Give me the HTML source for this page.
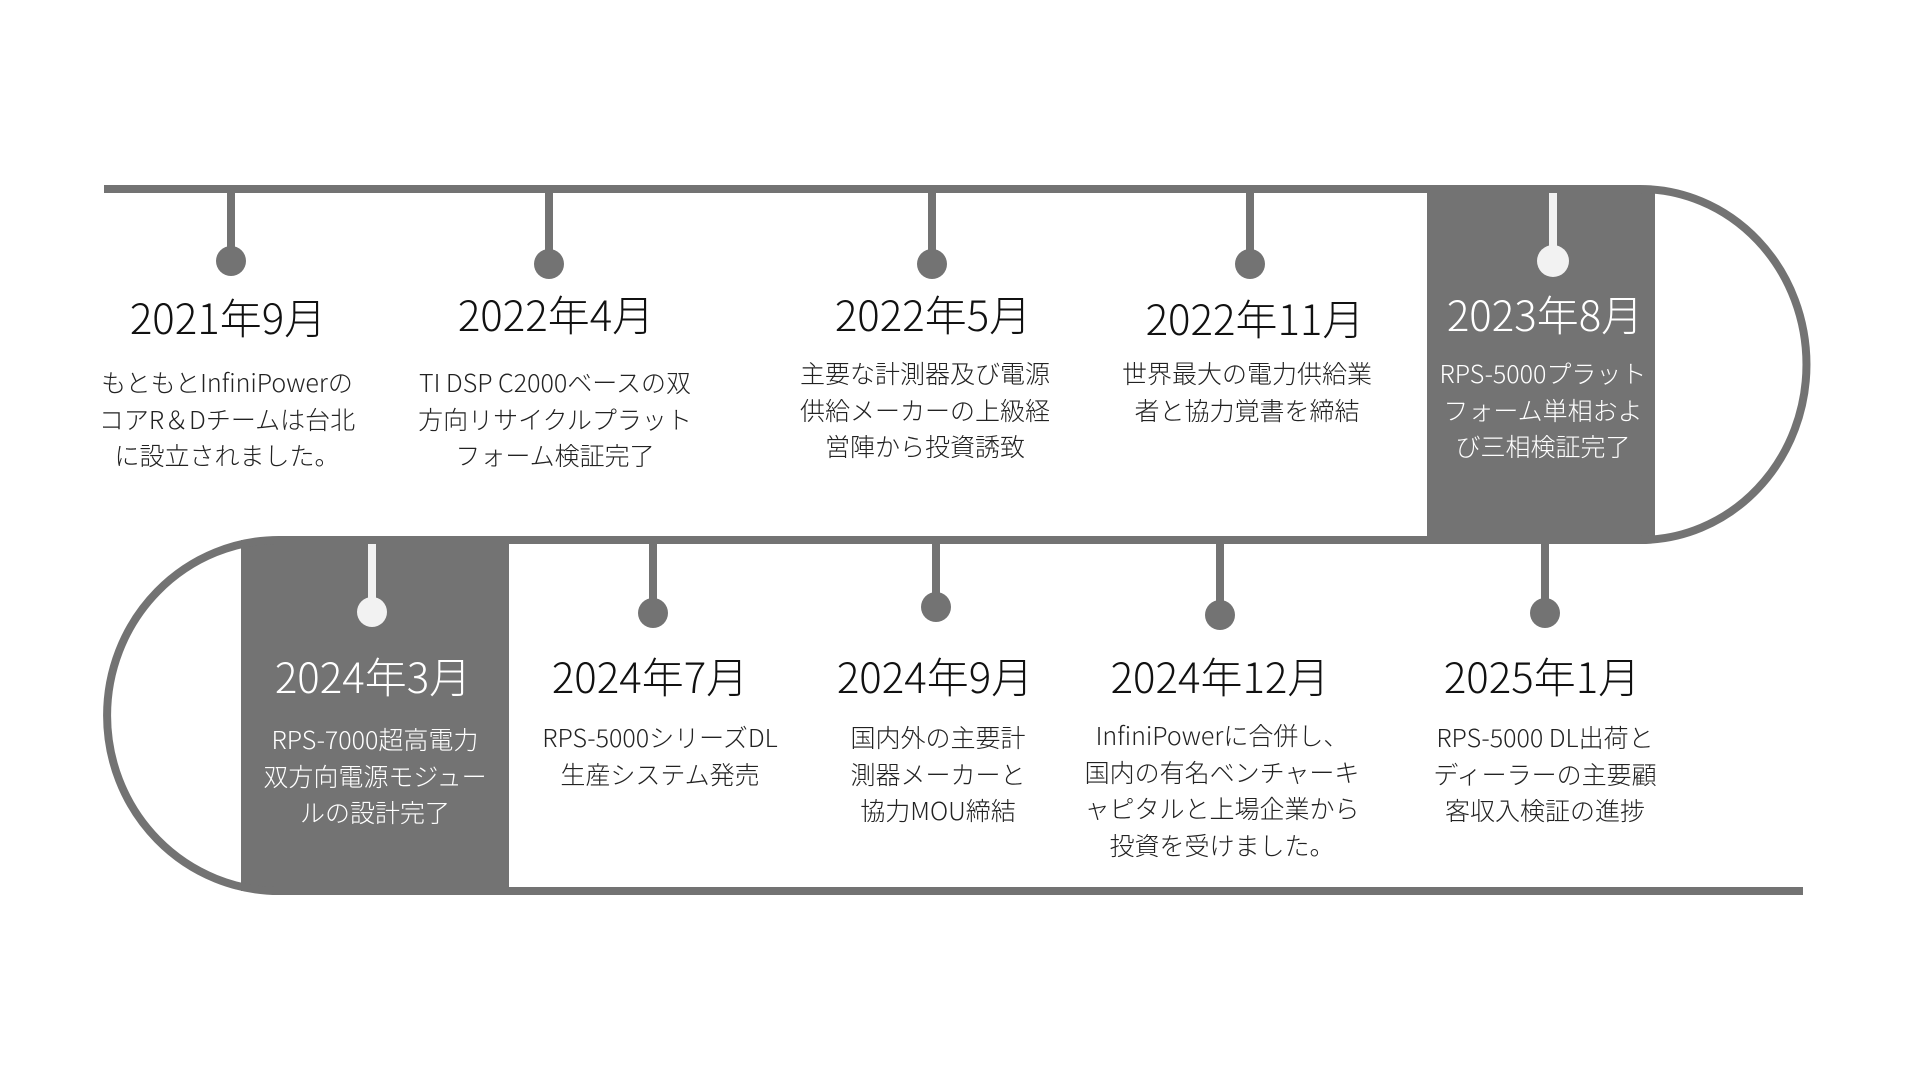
<!DOCTYPE html>
<html><head><meta charset="utf-8"><style>
html,body{margin:0;padding:0;background:#fff;}
#c{position:relative;width:1920px;height:1080px;overflow:hidden;font-family:"Liberation Sans","Noto Sans CJK JP",sans-serif;}
svg{position:absolute;left:0;top:0;}
.y{position:absolute;width:400px;margin-left:-200px;text-align:center;font-size:42px;line-height:50px;color:#111;font-family:"Noto Sans CJK JP",sans-serif;font-weight:300;white-space:nowrap;}
.d{position:absolute;width:320px;margin-left:-160px;text-align:center;font-size:25px;line-height:36.5px;color:#222;font-family:"Noto Sans CJK JP",sans-serif;font-weight:300;white-space:nowrap;}
.w{color:#fff;}
</style></head><body><div id="c">
<svg width="1920" height="1080" viewBox="0 0 1920 1080">
<g fill="#737373">
<rect x="1427" y="189" width="228" height="351"/>
<rect x="241" y="540" width="268" height="351"/>
</g>
<g fill="none" stroke="#737373" stroke-width="8">
<path d="M104 189 H1640 A166 175 0 0 1 1640 540 H279 A172 175.5 0 0 0 279 891 H1803"/>
<path d="M231 189 V260 M549 189 V263 M932 189 V263 M1250 189 V263"/>
<path d="M653 540 V611 M936 540 V606 M1220 540 V614 M1545 540 V613"/>
</g>
<g stroke="#f2f2f2" stroke-width="8">
<path d="M1553 193 V260 M372 544 V610"/>
</g>
<g fill="#737373">
<circle cx="231" cy="261" r="15"/><circle cx="549" cy="264" r="15"/><circle cx="932" cy="264" r="15"/><circle cx="1250" cy="264" r="15"/>
<circle cx="653" cy="613" r="15"/><circle cx="936" cy="607" r="15"/><circle cx="1220" cy="615" r="15"/><circle cx="1545" cy="613" r="15"/>
</g>
<g fill="#f2f2f2"><circle cx="1553" cy="261" r="16"/><circle cx="372" cy="612" r="15"/></g>
</svg>

<div class="y" style="left:228px;top:292px">2021年9月</div>
<div class="y" style="left:556px;top:289px">2022年4月</div>
<div class="y" style="left:933px;top:289px">2022年5月</div>
<div class="y" style="left:1255px;top:293px">2022年11月</div>
<div class="y w" style="left:1545px;top:289px">2023年8月</div>

<div class="d" style="left:227px;top:364px">もともとInfiniPowerの<br>コアR＆Dチームは台北<br>に設立されました。</div>
<div class="d" style="left:555px;top:364px">TI DSP C2000ベースの双<br>方向リサイクルプラット<br>フォーム検証完了</div>
<div class="d" style="left:925px;top:355px">主要な計測器及び電源<br>供給メーカーの上級経<br>営陣から投資誘致</div>
<div class="d" style="left:1247px;top:355px">世界最大の電力供給業<br>者と協力覚書を締結</div>
<div class="d w" style="left:1543px;top:355px">RPS-5000プラット<br>フォーム単相およ<br>び三相検証完了</div>

<div class="y w" style="left:373px;top:651px">2024年3月</div>
<div class="y" style="left:650px;top:651px">2024年7月</div>
<div class="y" style="left:935px;top:651px">2024年9月</div>
<div class="y" style="left:1220px;top:651px">2024年12月</div>
<div class="y" style="left:1542px;top:651px">2025年1月</div>

<div class="d w" style="left:375px;top:721px">RPS-7000超高電力<br>双方向電源モジュー<br>ルの設計完了</div>
<div class="d" style="left:660px;top:719px">RPS-5000シリーズDL<br>生産システム発売</div>
<div class="d" style="left:938px;top:719px">国内外の主要計<br>測器メーカーと<br>協力MOU締結</div>
<div class="d" style="left:1222px;top:717px">InfiniPowerに合併し、<br>国内の有名ベンチャーキ<br>ャピタルと上場企業から<br>投資を受けました。</div>
<div class="d" style="left:1545px;top:719px">RPS-5000 DL出荷と<br>ディーラーの主要顧<br>客収入検証の進捗</div>
</div></body></html>
